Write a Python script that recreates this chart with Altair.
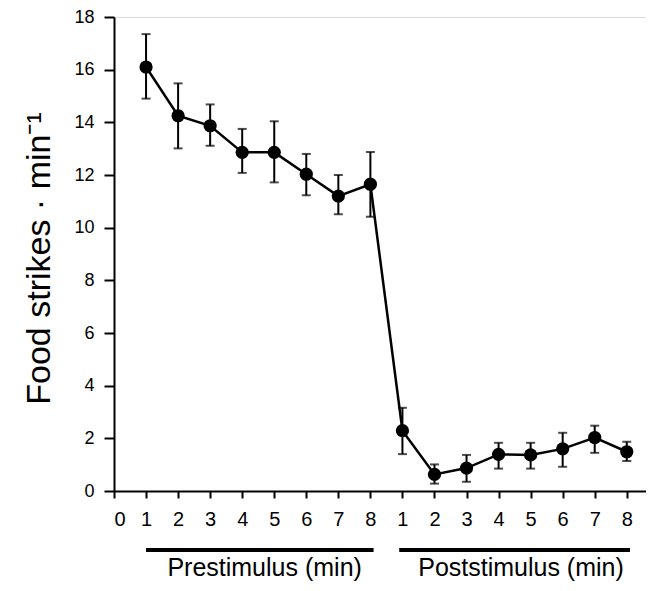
import altair as alt
import pandas as pd

# Data
phase = ["Pre"] * 8 + ["Post"] * 8
minute = [1, 2, 3, 4, 5, 6, 7, 8] * 2
mean = [16.1, 14.25, 13.87, 12.86, 12.86, 12.03, 11.2, 11.65,
        2.29, 0.63, 0.87, 1.39, 1.37, 1.6, 2.03, 1.49]
upper = [17.35, 15.48, 14.68, 13.75, 14.04, 12.8, 12.0, 12.87,
         3.16, 1.01, 1.37, 1.83, 1.83, 2.21, 2.48, 1.87]
lower = [14.9, 13.01, 13.11, 12.08, 11.72, 11.23, 10.51, 10.41,
         1.4, 0.28, 0.35, 0.85, 0.85, 0.92, 1.45, 1.14]

group_names = ["Prestimulus (min)", "Poststimulus (min)"]
group_start = [1.0, 8.9]
group_end = [8.1, 16.1]
group_center = [4.7, 12.7]

pos = [m + (8 if p == "Post" else 0) for m, p in zip(minute, phase)]
df = pd.DataFrame({"pos": pos, "mean": mean, "upper": upper, "lower": lower})
gdf = pd.DataFrame({"name": group_names, "start": group_start,
                    "end": group_end, "center": group_center})

FONT = "Liberation Sans"

xscale = alt.Scale(domain=[0, 16.6], nice=False, zero=False)
yscale = alt.Scale(domain=[0, 18], nice=False)

xaxis = alt.Axis(values=list(range(0, 17)),
                 labelExpr="datum.value > 8 ? datum.value - 8 : datum.value",
                 title=None, labelOverlap=False, labelFontSize=20,
                 tickSize=7, labelPadding=11)
yaxis = alt.Axis(values=list(range(0, 19, 2)), title="Food strikes · min⁻¹",
                 labelOverlap=False, labelFontSize=18, tickSize=10,
                 labelPadding=10,
                 titleFontSize=34, titleX=-65, titleY=241,
                 titleBaseline="alphabetic", titleAngle=270,
                 titleAlign="center")

X = alt.X("pos:Q", scale=xscale, axis=xaxis)

line = alt.Chart(df).mark_line(color="black", strokeWidth=2.5).encode(
    x=X, y=alt.Y("mean:Q", scale=yscale, axis=yaxis))
err = alt.Chart(df).mark_rule(color="black", strokeWidth=2).encode(
    x=X, y=alt.Y("lower:Q", scale=yscale, axis=yaxis), y2="upper:Q")
cap_hi = alt.Chart(df).mark_tick(color="black", orient="horizontal", size=9,
                                 thickness=2).encode(
    x=X, y=alt.Y("upper:Q", scale=yscale, axis=yaxis))
cap_lo = alt.Chart(df).mark_tick(color="black", orient="horizontal", size=9,
                                 thickness=2).encode(
    x=X, y=alt.Y("lower:Q", scale=yscale, axis=yaxis))
pts = alt.Chart(df).mark_circle(color="black", opacity=1, size=175).encode(
    x=X, y=alt.Y("mean:Q", scale=yscale, axis=yaxis))

grp_line = alt.Chart(gdf).mark_rule(color="black", strokeWidth=4).encode(
    x=alt.X("start:Q", scale=xscale, axis=xaxis), x2="end:Q",
    y=alt.value(533))
grp_text = alt.Chart(gdf).mark_text(font=FONT, fontSize=25, color="black",
                                    align="center", baseline="alphabetic").encode(
    x=alt.X("center:Q", scale=xscale, axis=xaxis), y=alt.value(559),
    text="name:N")

chart = alt.layer(line, err, cap_hi, cap_lo, pts, grp_line, grp_text).properties(
    width=532, height=474,
    autosize=alt.AutoSizeParams(type="none"),
    padding={"left": 106, "top": 9, "right": 0, "bottom": 92},
).configure_view(stroke=None).configure(background="white").configure_axis(
    grid=False, tickWidth=2, domainWidth=2,
    domainColor="black", tickColor="black", labelColor="black",
    labelFont=FONT, titleFont=FONT, titleFontWeight="normal",
    titleColor="black")

chart.save("out.html", embed_options={"renderer": "svg", "actions": False})
